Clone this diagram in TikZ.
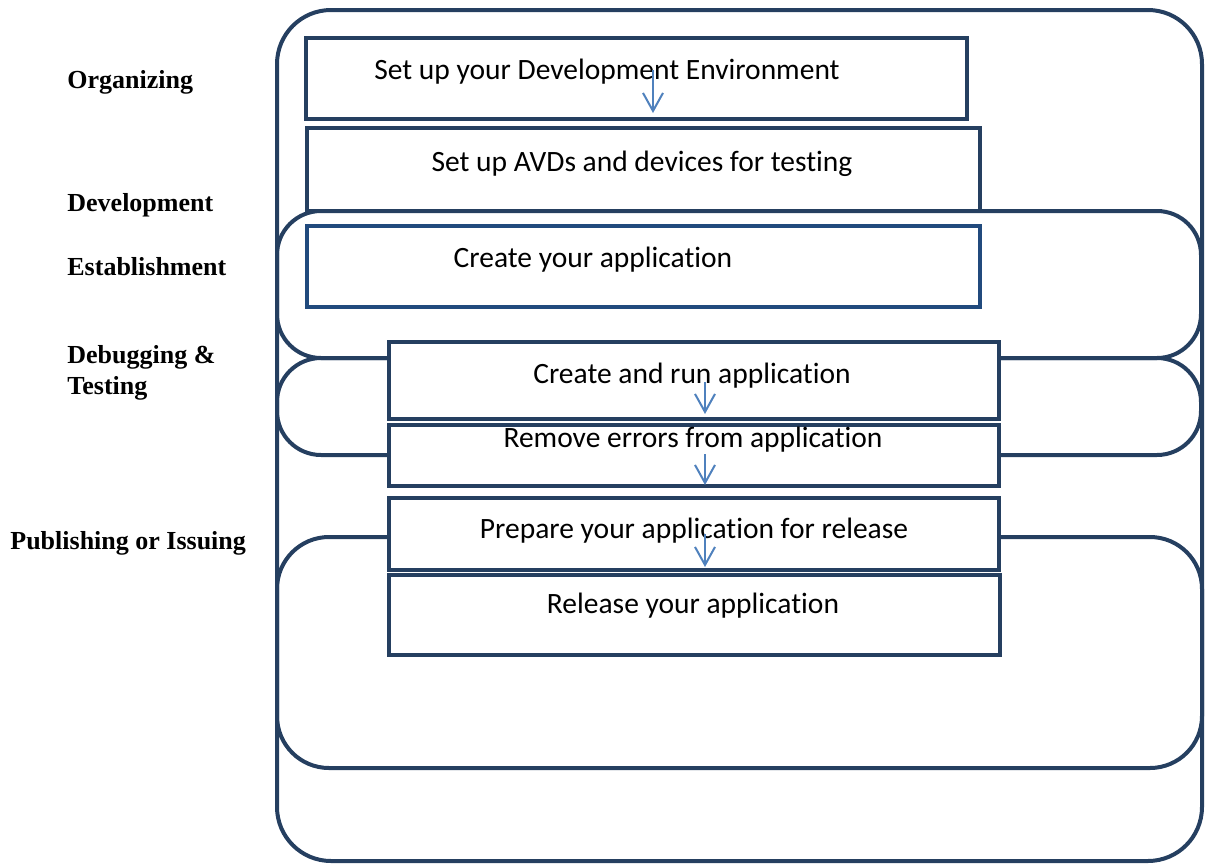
\documentclass[tikz,border=0pt]{standalone}
\usepackage{fontspec}
\newfontfamily\boxfont[Ligatures=NoCommon]{Carlito}
\newfontfamily\phasefont{Liberation Serif}
\usepackage{tikz}
\usetikzlibrary{arrows.meta,fit,positioning}

\definecolor{navy}{RGB}{37,63,96}
\definecolor{navyblue}{RGB}{33,74,125}
\definecolor{arrowblue}{RGB}{79,129,189}

\begin{document}
\begin{tikzpicture}[
    x=0.5pt, y=-0.5pt,
    stage/.style={draw=navy, line width=2pt},
    task/.style={rectangle, draw=navy, fill=white, line width=2.2pt, inner sep=0pt},
    tasktext/.style={font=\boxfont\fontsize{14.75}{17}\selectfont, inner sep=0pt},
    phase/.style={anchor=west, align=left, inner sep=0pt, font=\phasefont\bfseries\fontsize{13}{15.5}\selectfont},
    flow/.style={draw=arrowblue, line width=1pt, -{Straight Barb[length=9pt,width=10pt]}}
]
    \useasboundingbox (0,0) rectangle (1206,863);

    % phase bands
    \draw[stage, rounded corners=27pt] (277,10) rectangle (1202,861);
    \draw[stage, rounded corners=22pt] (277,211) rectangle (1201,358);
    \draw[stage, rounded corners=22pt] (277,358) rectangle (1201,455);
    \draw[stage, rounded corners=26pt] (277,537) rectangle (1202,768);

    % task boxes
    \node[task, fit={(306,38) (967,119)}] (devenv) {};
    \node[task, fit={(307,128) (980,211)}] (avd) {};
    \node[task, draw=navyblue, fit={(307,226) (980,307)}] (createapp) {};
    \node[task, fit={(389,342) (999,419)}] (runapp) {};
    \node[task, fit={(389,425) (999,486)}] (fixapp) {};
    \node[task, fit={(389,498) (999,570)}] (prepapp) {};
    \node[task, fit={(389,575) (1000,655)}] (relapp) {};

    \node[tasktext] (devenvtxt) at (607,72) {Set up your Development Environment};
    \node[tasktext] (avdtxt) at (642,164) {Set up AVDs and devices for testing};
    \node[tasktext] (createapptxt) at (593,260) {Create your application};
    \node[tasktext] (runapptxt) at (692,376) {Create and run application};
    \node[tasktext] (fixapptxt) at (693,440) {Remove errors from application};
    \node[tasktext] (prepapptxt) at (694,531) {Prepare your application for release};
    \node[tasktext] (relapptxt) at (693,606) {Release your application};

    % phase names
    \node[phase] (organizing) at (67,82) {Organizing};
    \node[phase] (development) at (67,205) {Development};
    \node[phase] (establishment) at (67,267) {Establishment};
    \node[phase] (debugging) at (67,373) {Debugging \&\\Testing};
    \node[phase] (publishing) at (10,543) {Publishing or Issuing};

    % arrows
    \coordinate (a1) at (653,70);  \coordinate (b1) at (653,113);
    \coordinate (a2) at (705,382); \coordinate (b2) at (705,414);
    \coordinate (a3) at (705,454); \coordinate (b3) at (705,485);
    \coordinate (a4) at (705,534); \coordinate (b4) at (705,567);
    \draw[flow] (a1) -- (b1);
    \draw[flow] (a2) -- (b2);
    \draw[flow] (a3) -- (b3);
    \draw[flow] (a4) -- (b4);
\end{tikzpicture}
\end{document}
